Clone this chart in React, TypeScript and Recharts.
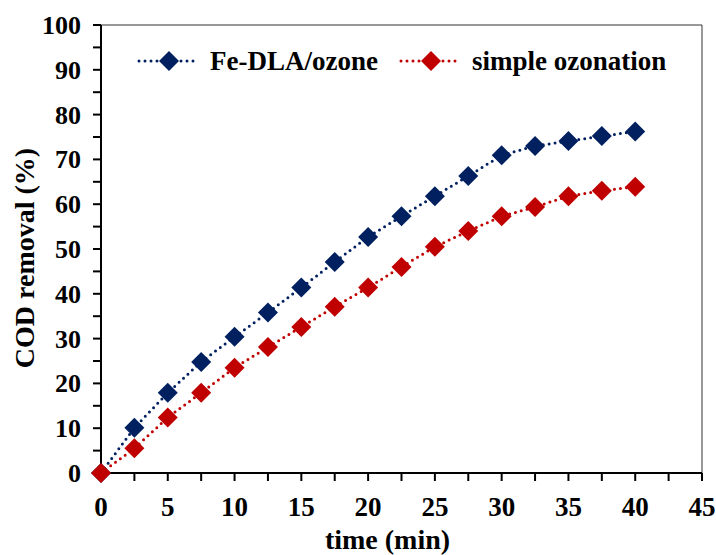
import React from "react";
import {
  LineChart, Line, XAxis, YAxis, ReferenceLine, Label,
} from "recharts";

const times = [0, 2.5, 5, 7.5, 10, 12.5, 15, 17.5, 20, 22.5, 25, 27.5, 30, 32.5, 35, 37.5, 40];
const feDlaOzone = [0, 10.1, 17.9, 24.8, 30.4, 35.8, 41.4, 47.1, 52.7, 57.3, 61.8, 66.3, 70.9, 73.0, 74.1, 75.2, 76.2];
const simpleOzonation = [0, 5.5, 12.4, 17.9, 23.5, 28.1, 32.6, 37.1, 41.4, 46.0, 50.5, 54.0, 57.3, 59.4, 61.8, 63.0, 63.9];

const xTicks = [0, 2.5, 5, 7.5, 10, 12.5, 15, 17.5, 20, 22.5, 25, 27.5, 30, 32.5, 35, 37.5, 40, 42.5, 45];
const yTicks = [0, 5, 10, 15, 20, 25, 30, 35, 40, 45, 50, 55, 60, 65, 70, 75, 80, 85, 90, 95, 100];

const NAVY = "#002060";
const RED = "#C00000";
const FONT = "'Liberation Serif', 'Times New Roman', serif";

const data = times.map((t, i) => ({ t, fe: feDlaOzone[i], simple: simpleOzonation[i] }));

const Diamond = (color: string) => (props: any) => {
  const { cx, cy, index } = props;
  if (cx == null || cy == null) return null;
  const r = 10;
  return (
    <polygon
      key={index}
      points={`${cx},${cy - r} ${cx + r},${cy} ${cx},${cy + r} ${cx - r},${cy}`}
      fill={color}
    />
  );
};

const XTick = (props: any) => {
  const { x, y, payload } = props;
  if (payload.value % 5 !== 0) return null;
  return (
    <text x={x} y={y + 33} textAnchor="middle" fontFamily={FONT} fontWeight="bold" fontSize={27} fill="#000">
      {payload.value}
    </text>
  );
};

const YTick = (props: any) => {
  const { x, y, payload } = props;
  if (payload.value % 10 !== 0) return null;
  return (
    <text x={x - 10} y={y + 9} textAnchor="end" fontFamily={FONT} fontWeight="bold" fontSize={26} fill="#000">
      {payload.value}
    </text>
  );
};

const LegendItem = ({ color, label }: { color: string; label: string }) => (
  <div style={{ display: "flex", alignItems: "center" }}>
    <svg width={66} height={22}>
      <line x1={3} y1={11} x2={63} y2={11} stroke={color} strokeWidth={3} strokeDasharray="0 6" strokeLinecap="round" />
      <polygon points="33,1 43,11 33,21 23,11" fill={color} />
    </svg>
    <span style={{ marginLeft: 8, fontFamily: FONT, fontWeight: "bold", fontSize: 27, color: "#000", lineHeight: "30px" }}>{label}</span>
  </div>
);

export default function App() {
  return (
    <div style={{ position: "absolute", left: 0, top: 0, width: 716, height: 555, background: "#fff" }}>
      <LineChart width={716} height={555} data={data} margin={{ top: 25, right: 14, left: 0, bottom: 0 }}>
        <XAxis
          dataKey="t"
          type="number"
          domain={[0, 45]}
          ticks={xTicks}
          interval={0}
          tick={<XTick />}
          tickSize={8}
          height={82}
          axisLine={{ stroke: "#000", strokeWidth: 2 }}
          tickLine={{ stroke: "#000", strokeWidth: 2 }}
        >
          <Label value="time (min)" position="insideBottom" offset={6} dx={-14} fontFamily={FONT} fontWeight="bold" fontSize={28} fill="#000" />
        </XAxis>
        <YAxis
          type="number"
          domain={[0, 100]}
          ticks={yTicks}
          interval={0}
          tick={<YTick />}
          tickSize={8}
          width={101}
          axisLine={{ stroke: "#000", strokeWidth: 2 }}
          tickLine={{ stroke: "#000", strokeWidth: 2 }}
        >
          <Label value="COD removal (%)" angle={-90} position="insideLeft" offset={24} dy={9} fontFamily={FONT} fontWeight="bold" fontSize={28} fill="#000" style={{ textAnchor: "middle" }} />
        </YAxis>
        <ReferenceLine y={100} stroke="#333" strokeWidth={1} />
        <ReferenceLine x={45} stroke="#333" strokeWidth={1} />
        <Line
          dataKey="fe"
          name="Fe-DLA/ozone"
          stroke={NAVY}
          strokeWidth={3}
          strokeDasharray="0 6"
          strokeLinecap="round"
          dot={Diamond(NAVY)}
          activeDot={false}
          isAnimationActive={false}
        />
        <Line
          dataKey="simple"
          name="simple ozonation"
          stroke={RED}
          strokeWidth={3}
          strokeDasharray="0 6"
          strokeLinecap="round"
          dot={Diamond(RED)}
          activeDot={false}
          isAnimationActive={false}
        />
      </LineChart>
      <div style={{ position: "absolute", left: 136, top: 46, display: "flex", gap: 20 }}>
        <LegendItem color={NAVY} label="Fe-DLA/ozone" />
        <LegendItem color={RED} label="simple ozonation" />
      </div>
    </div>
  );
}
